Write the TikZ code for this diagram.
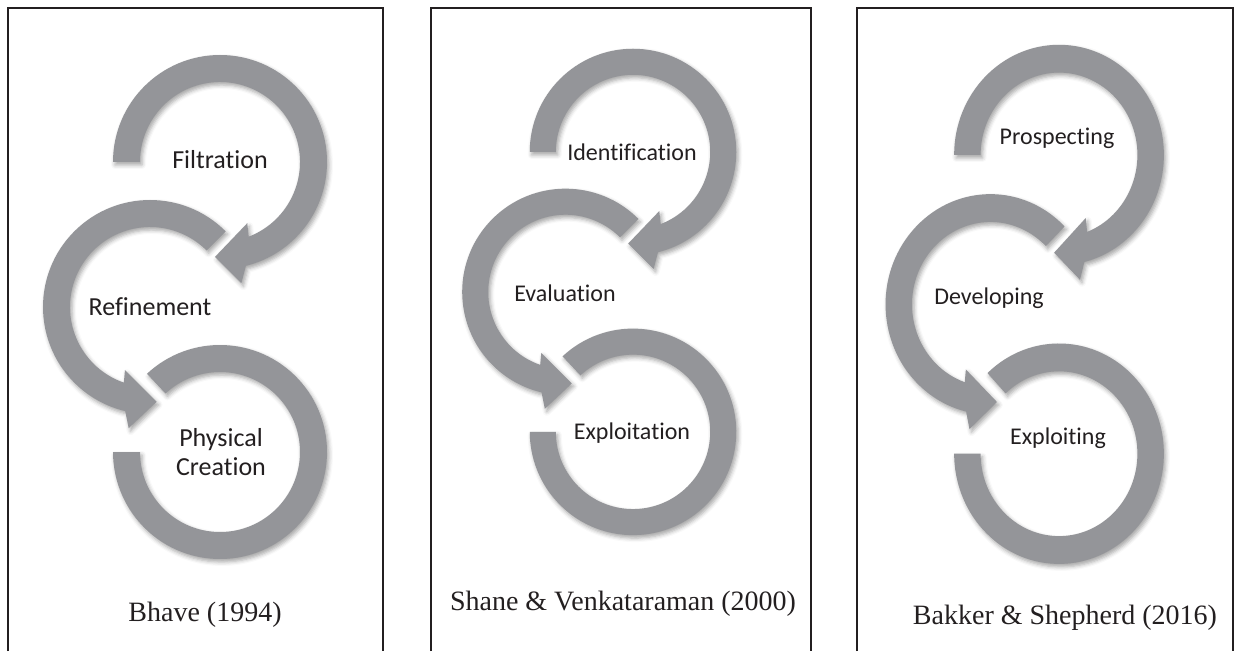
\documentclass[tikz,border=0pt]{standalone}
\usepackage{fontspec}
\setmainfont{Liberation Serif}
\newfontfamily\stagefont[Ligatures=NoCommon]{Carlito}
\usetikzlibrary{shadows.blur}

\definecolor{arrowgray}{RGB}{148,149,153}
\definecolor{inkblack}{RGB}{35,31,32}

% the three circling arrows of one panel, top ring centred at the origin
\newcommand{\cyclearrows}[1]{%
  % top: from the left end clockwise, head pointing left
  \path[#1] (180:107) arc[start angle=180, end angle=-76, radius=107]
    -- (-80:123) -- (-93:95) -- (-66:67) -- (-69:80)
    arc[start angle=-69, end angle=180, radius=80] -- cycle;
  % middle: counter-clockwise, head pointing right
  \path[#1, shift={(-70,-145)}] (45:107) arc[start angle=45, end angle=256.6, radius=107]
    -- (260:123) -- (274:95) -- (248.4:68) -- (250.9:80)
    arc[start angle=250.9, end angle=45, radius=80] -- cycle;
  % bottom: clockwise, open end on the left
  \path[#1, shift={(0,-290)}] (133:107) arc[start angle=133, end angle=-180, radius=107]
    -- (180:80) arc[start angle=-180, end angle=133, radius=80] -- cycle;
}

\begin{document}
\begin{tikzpicture}[x=1pt, y=1pt,
  panel/.style={line width=1.2pt, draw=inkblack},
  softshadow/.style={blur shadow={shadow xshift=2pt, shadow yshift=-3pt, shadow blur radius=4pt, shadow opacity=35}},
  arrowbody/.style={fill=arrowgray},
  stage/.style={text=inkblack, align=center, inner sep=0pt, font=\stagefont\fontsize{24}{29}\selectfont},
  bigstage/.style={stage, font=\stagefont\fontsize{26}{29}\selectfont},
  citation/.style={text=inkblack, anchor=base, inner sep=0pt, font=\fontsize{28}{32}\selectfont}]
\useasboundingbox (0,0) rectangle (1241,651);

%panel frames, open at the bottom
\draw[panel] (8,0) |- (383,643) -- (383,0);
\draw[panel] (431,0) |- (811,643) -- (811,0);
\draw[panel] (857,0) |- (1233,643) -- (1233,0);

%Bhave
\begin{scope}[shift={(220,489)}]
  \cyclearrows{softshadow}
  \cyclearrows{arrowbody}
\end{scope}
\node[bigstage] (filtration) at (220,491) {Filtration};
\node[bigstage] (refinement) at (150,344) {Refinement};
\node[bigstage] (creation) at (221,199) {Physical\\Creation};
\node[citation] (bhave) at (205,30) {Bhave (1994)};

%Shane & Venkataraman
\begin{scope}[shift={(633,499)}, scale=0.965]
  \cyclearrows{softshadow}
  \cyclearrows{arrowbody}
\end{scope}
\node[stage] (identification) at (632,499) {Identification};
\node[stage] (evaluation) at (565,358) {Evaluation};
\node[stage] (exploitation) at (632,218) {Exploitation};
\node[citation] (shane) at (623,41) {Shane \& Venkataraman (2000)};

%Bakker & Shepherd
\begin{scope}[shift={(1059,496)}, xscale=0.98, yscale=1.03]
  \cyclearrows{softshadow}
  \cyclearrows{arrowbody}
\end{scope}
\node[stage] (prospecting) at (1057,513) {Prospecting};
\node[stage] (developing) at (989,353) {Developing};
\node[stage] (exploiting) at (1058,213) {Exploiting};
\node[citation] (bakker) at (1065,27) {Bakker \& Shepherd (2016)};

\end{tikzpicture}
\end{document}
